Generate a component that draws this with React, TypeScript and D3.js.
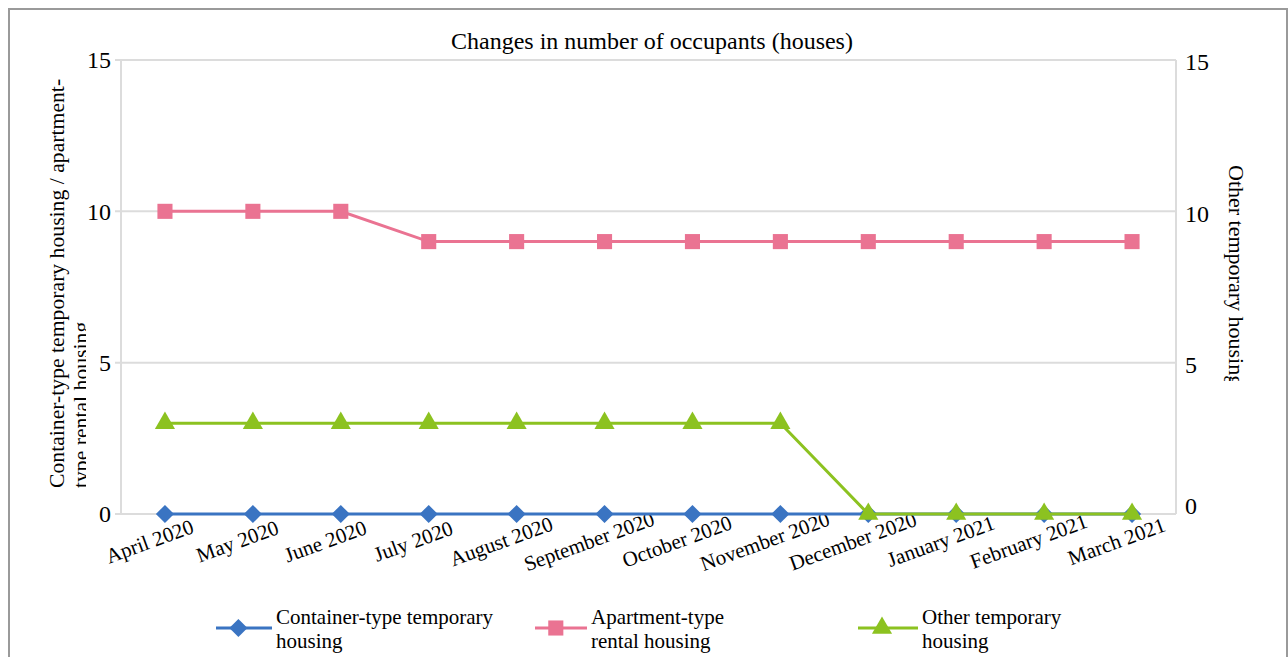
import { useEffect, useRef } from "react";
import * as d3 from "d3";

const months = [
  "April 2020", "May 2020", "June 2020", "July 2020", "August 2020", "September 2020",
  "October 2020", "November 2020", "December 2020", "January 2021", "February 2021", "March 2021",
];
const container = [0, 0, 0, 0, 0, 0, 0, 0, 0, 0, 0, 0];
const apartment = [10, 10, 10, 9, 9, 9, 9, 9, 9, 9, 9, 9];
const other = [3, 3, 3, 3, 3, 3, 3, 3, 0, 0, 0, 0];
const yTicks = [0, 5, 10, 15];

const series = [
  { name: ["Container-type temporary", "housing"], values: container, color: "#3a74c2", symbol: d3.symbolDiamond2, size: 210 },
  { name: ["Apartment-type", "rental housing"], values: apartment, color: "#ea7392", symbol: d3.symbolSquare2, size: 290 },
  { name: ["Other temporary", "housing"], values: other, color: "#8cc220", symbol: d3.symbolTriangle2, size: 290 },
];

const FONT = "'Liberation Serif', 'Times New Roman', serif";

export default function App() {
  const svgRef = useRef<SVGSVGElement | null>(null);

  useEffect(() => {
    const W = 1288, H = 657;
    const left = 121, right = 1176, top = 60, bottom = 514;
    const svg = d3.select(svgRef.current).attr("width", W).attr("height", H);
    svg.selectAll("*").remove();

    // frame
    svg.append("rect").attr("x", 9).attr("y", 9).attr("width", W - 10).attr("height", H)
      .attr("fill", "white").attr("stroke", "#9a9a9a").attr("stroke-width", 2);

    const x = d3.scaleBand<string>().domain(months).range([left, right]);
    const y = d3.scaleLinear().domain([0, 15]).range([bottom, top]);

    // grid
    svg.append("g").selectAll("line").data(yTicks).join("line")
      .attr("x1", left - 6).attr("x2", right).attr("y1", (d) => y(d)).attr("y2", (d) => y(d))
      .attr("stroke", "#dcdcdc").attr("stroke-width", 2);
    [left, right].forEach((xx) => {
      svg.append("line").attr("x1", xx).attr("x2", xx).attr("y1", top).attr("y2", bottom)
        .attr("stroke", "#dcdcdc").attr("stroke-width", 2);
    });

    // left ticks
    svg.append("g").selectAll("text").data(yTicks).join("text")
      .attr("x", left - 10).attr("y", (d) => y(d)).attr("dy", "0.35em")
      .attr("text-anchor", "end").attr("font-family", FONT).attr("font-size", 24)
      .text((d) => d);
    // right ticks
    svg.append("g").selectAll("text").data(yTicks).join("text")
      .attr("x", right + 9).attr("y", (d) => (d === 0 ? y(d) - 8 : y(d) + 2)).attr("dy", "0.35em")
      .attr("text-anchor", "start").attr("font-family", FONT).attr("font-size", 24)
      .text((d) => d);

    // title
    svg.append("text").attr("x", 652).attr("y", 49).attr("text-anchor", "middle")
      .attr("font-family", FONT).attr("font-size", 24).text("Changes in number of occupants (houses)");

    // left axis title (clipped)
    const defs = svg.append("defs");
    defs.append("clipPath").attr("id", "lclip").append("rect")
      .attr("x", 20).attr("y", 60).attr("width", 66).attr("height", 440);
    const lt = svg.append("g").attr("clip-path", "url(#lclip)");
    [["Container-type temporary housing / apartment-", 64], ["type rental housing", 88]].forEach(([t, xx]) => {
      lt.append("text").attr("transform", `translate(${xx},488) rotate(-90)`)
        .attr("font-family", FONT).attr("font-size", 21.7).text(t as string);
    });

    // right axis title (clipped)
    defs.append("clipPath").attr("id", "rclip").append("rect")
      .attr("x", 1200).attr("y", 150).attr("width", 80).attr("height", 231);
    svg.append("g").attr("clip-path", "url(#rclip)").append("text")
      .attr("transform", "translate(1229,165) rotate(90)")
      .attr("font-family", FONT).attr("font-size", 22).text("Other temporary housing");

    // x labels
    svg.append("g").selectAll("text").data(months).join("text")
      .attr("transform", (d) => `translate(${x(d)! + x.bandwidth() / 2 - 13},548) rotate(-20)`)
      .attr("text-anchor", "middle").attr("font-family", FONT).attr("font-size", 21)
      .text((d) => d);

    const cx = (i: number) => x(months[i])! + x.bandwidth() / 2;
    const line = d3.line<number>().x((_, i) => cx(i)).y((d) => y(d));

    series.forEach((s) => {
      svg.append("path").datum(s.values).attr("d", line).attr("fill", "none")
        .attr("stroke", s.color).attr("stroke-width", 3);
      const sym = d3.symbol().type(s.symbol).size(s.size);
      svg.append("g").selectAll("path").data(s.values).join("path")
        .attr("transform", (d, i) => `translate(${cx(i)},${y(d)})`)
        .attr("d", sym()).attr("fill", s.color);
    });

    // legend
    const legendX = [216, 535, 858];
    const legendW = [56, 52, 60];
    series.forEach((s, i) => {
      const g = svg.append("g").attr("transform", `translate(${legendX[i]},628)`);
      g.append("line").attr("x1", 0).attr("x2", legendW[i]).attr("stroke", s.color).attr("stroke-width", 3);
      g.append("path").attr("transform", `translate(${legendW[i] * 0.4},0)`)
        .attr("d", d3.symbol().type(s.symbol).size(s.size)()).attr("fill", s.color);
      s.name.forEach((t, j) => {
        g.append("text").attr("x", legendW[i] + 4).attr("y", -4 + j * 24)
          .attr("font-family", FONT).attr("font-size", 21).text(t);
      });
    });
  }, []);

  return <svg ref={svgRef} style={{ position: "absolute", left: 0, top: 0, display: "block" }} />;
}
